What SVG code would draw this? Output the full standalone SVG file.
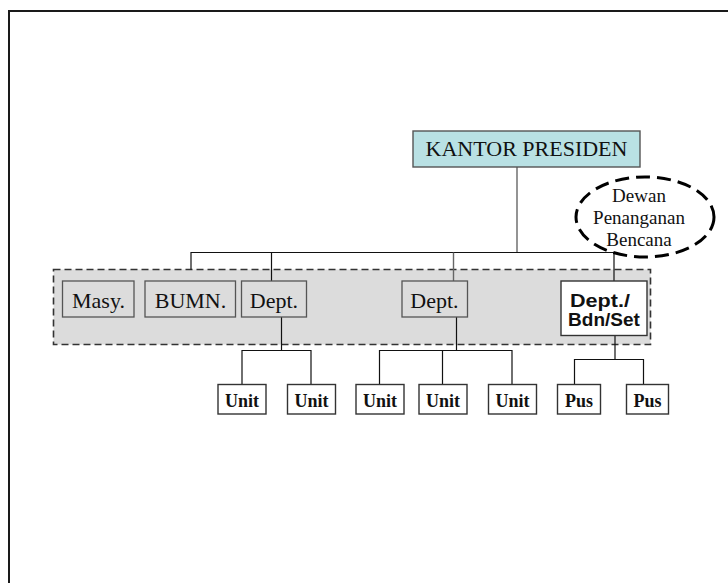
<svg xmlns="http://www.w3.org/2000/svg" width="728" height="583" viewBox="0 0 728 583">
<style>
.bg{fill:#ffffff}
.frame{fill:none;stroke:#1a1a1a;stroke-width:2}
.grp{fill:#dcdcdc;stroke:#333;stroke-width:1.6;stroke-dasharray:7 4}
.gbox{fill:#dcdcdc;stroke:#555;stroke-width:1.3}
.wbox{fill:#ffffff;stroke:#333;stroke-width:1.4}
.top{fill:#b9e1e4;stroke:#555;stroke-width:1.4}
.oval{fill:none;stroke:#000;stroke-width:3;stroke-dasharray:14 7}
.ln{fill:none;stroke:#111;stroke-width:1.2}
.lg{fill:none;stroke:#666;stroke-width:1.4}
.tr{font-family:"Liberation Serif","Times New Roman",serif;fill:#111;text-anchor:middle}
.t22{font-size:22px}
.t19{font-size:19px}
.tb{font-family:"Liberation Serif","Times New Roman",serif;font-weight:bold;font-size:18px;fill:#111;text-anchor:middle}
.ts{font-family:"Liberation Sans",Arial,sans-serif;font-weight:bold;font-size:19px;fill:#111;text-anchor:middle}
</style>
<rect class="bg" x="0" y="0" width="728" height="583"/>
<rect class="frame" x="9" y="11" width="740" height="600"/>

<g id="container">
<rect class="grp" x="53.5" y="269.5" width="597" height="75"/>
</g>

<g id="connectors">
<line class="lg" x1="517" y1="167" x2="517" y2="252.5"/>
<polyline class="ln" points="191,269.5 191,252.5 614,252.5 614,281"/>
<line class="ln" x1="271.5" y1="252.5" x2="271.5" y2="281"/>
<line class="lg" x1="453.5" y1="252.5" x2="453.5" y2="281"/>
<line class="ln" x1="281.5" y1="317" x2="281.5" y2="350.5"/>
<polyline class="ln" points="242,384.5 242,350.5 311,350.5 311,384.5"/>
<line class="ln" x1="456.5" y1="317" x2="456.5" y2="350.5"/>
<polyline class="ln" points="379.5,384.5 379.5,350.5 512,350.5 512,384.5"/>
<line class="ln" x1="442.5" y1="350.5" x2="442.5" y2="384.5"/>
<line class="ln" x1="615" y1="335.5" x2="615" y2="359.5"/>
<polyline class="ln" points="574.5,384.5 574.5,359.5 643.5,359.5 643.5,384.5"/>
</g>

<g id="kantor">
<rect class="top" x="413" y="131" width="227" height="36"/>
<text class="tr t22" x="526.5" y="156">KANTOR PRESIDEN</text>
</g>

<g id="dewan">
<ellipse class="oval" cx="645" cy="217" rx="69" ry="40"/>
<text class="tr t19" x="639" y="202">Dewan</text>
<text class="tr t19" x="639" y="224">Penanganan</text>
<text class="tr t19" x="639" y="246">Bencana</text>
</g>

<g id="masy">
<rect class="gbox" x="62.5" y="281" width="71.5" height="36"/>
<text class="tr t22" x="98.5" y="307.5">Masy.</text>
</g>
<g id="bumn">
<rect class="gbox" x="145" y="281" width="90.5" height="36"/>
<text class="tr t22" x="190.5" y="307.5">BUMN.</text>
</g>
<g id="dept1">
<rect class="gbox" x="241.5" y="281" width="65" height="36"/>
<text class="tr t22" x="274" y="308">Dept.</text>
</g>
<g id="dept2">
<rect class="gbox" x="402" y="281" width="65.5" height="36"/>
<text class="tr t22" x="434.5" y="308">Dept.</text>
</g>
<g id="deptbdn">
<rect class="wbox" x="561" y="281" width="86" height="54.5"/>
<text class="ts" x="600" y="306.5" textLength="60" lengthAdjust="spacingAndGlyphs">Dept./</text>
<text class="ts" x="604" y="326">Bdn/Set</text>
</g>

<g id="unit1"><rect class="wbox" x="218" y="384.5" width="48" height="29.5"/><text class="tb" x="242" y="407">Unit</text></g>
<g id="unit2"><rect class="wbox" x="287.5" y="384.5" width="48" height="29.5"/><text class="tb" x="311.5" y="407">Unit</text></g>
<g id="unit3"><rect class="wbox" x="356" y="384.5" width="48" height="29.5"/><text class="tb" x="380" y="407">Unit</text></g>
<g id="unit4"><rect class="wbox" x="419" y="384.5" width="48" height="29.5"/><text class="tb" x="443" y="407">Unit</text></g>
<g id="unit5"><rect class="wbox" x="488.5" y="384.5" width="48" height="29.5"/><text class="tb" x="512.5" y="407">Unit</text></g>
<g id="pus1"><rect class="wbox" x="557.5" y="384.5" width="43" height="29.5"/><text class="tb" x="579" y="407">Pus</text></g>
<g id="pus2"><rect class="wbox" x="626.5" y="384.5" width="42" height="29.5"/><text class="tb" x="647.5" y="407">Pus</text></g>
</svg>
